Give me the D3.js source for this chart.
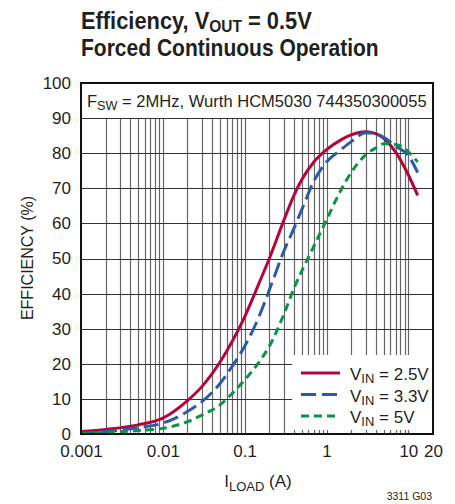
<!DOCTYPE html>
<html>
<head>
<meta charset="utf-8">
<script src="https://cdn.jsdelivr.net/npm/d3@7"></script>
<style>
  html, body { margin: 0; padding: 0; background: #fff; }
  svg { display: block; }
  text { font-family: "Liberation Sans Narrow", "Arial Narrow", "Liberation Sans", sans-serif; fill: #231f20; }
</style>
</head>
<body>
<div id="chart"></div>
<script>
// ---- data ----
const loads = [0.001, 0.002, 0.005, 0.01, 0.02, 0.03, 0.05, 0.07, 0.1, 0.15, 0.2, 0.3, 0.4, 0.5, 0.7, 1, 1.5, 2, 3, 4, 5, 7, 10, 13];
const effVin25 = [0.7, 1.3, 2.6, 4.5, 9.5, 13.5, 20.5, 26.3, 33.4, 43, 50, 60.8, 68, 72.5, 77.5, 81, 83.8, 85.2, 86.1, 85.6, 84.2, 80.3, 73.8, 68];
const effVin33 = [0.3, 0.7, 1.8, 3.1, 6.4, 9.2, 14.4, 19.2, 25, 33.5, 41, 52, 58.6, 64, 72, 77.5, 81, 83.3, 85.8, 85.5, 84.5, 82, 79.3, 74.5];
const effVin5 = [0.1, 0.4, 1.0, 1.6, 3.5, 5.4, 8.3, 11.5, 15.4, 20.5, 25, 34, 41.5, 46.5, 53.5, 61, 69.5, 74.5, 79.5, 81.5, 82.7, 82.5, 80.4, 77.5];
const seriesLabels = ["2.5V", "3.3V", "5V"];
const yTicks = [0, 10, 20, 30, 40, 50, 60, 70, 80, 90, 100];
const xTicks = [0.001, 0.01, 0.1, 1, 10, 20];
const xTickLabels = ["0.001", "0.01", "0.1", "1", "10", "20"];

const W = 455, H = 504;
const L = 81, R = 433, T = 83, B = 434;

const svg = d3.select("#chart").append("svg").attr("width", W).attr("height", H);

const x = d3.scaleLog().domain([0.001, 20]).range([L, R]);
const y = d3.scaleLinear().domain([0, 100]).range([B, T]);

// squeeze a text horizontally to a target width (anchored at its left edge)
function fitWidth(sel, x0, y0, target) {
  const w = sel.node().getBBox().width;
  const s = w > 0 ? target / w : 1;
  sel.attr("x", 0).attr("y", 0).attr("transform", `translate(${x0},${y0}) scale(${s},1)`);
}

// grid lines
const vGrid = [];
for (let e = -3; e <= 1; e++) for (let k = 1; k <= 9; k++) {
  const v = k * Math.pow(10, e);
  if (v > 0.001 && v < 20) vGrid.push(v);
}
svg.append("g").selectAll("line").data(vGrid).join("line")
  .attr("x1", d => Math.round(x(d)) + 0.5).attr("x2", d => Math.round(x(d)) + 0.5)
  .attr("y1", T).attr("y2", B)
  .attr("stroke", "#666").attr("stroke-width", 1.2);
svg.append("g").selectAll("line").data(yTicks.filter(d => d > 0 && d < 100)).join("line")
  .attr("x1", L).attr("x2", R)
  .attr("y1", d => Math.round(y(d)) + 0.5).attr("y2", d => Math.round(y(d)) + 0.5)
  .attr("stroke", "#333").attr("stroke-width", 1.2);

// white masks: annotation band and legend box
svg.append("rect").attr("x", L).attr("y", T).attr("width", R - L).attr("height", Math.round(y(90)) - T)
  .attr("fill", "#fff");
svg.append("rect").attr("x", 292).attr("y", 355).attr("width", R - 292).attr("height", 75)
  .attr("fill", "#fff");

// curves
const colors = ["#b3053c", "#2c5aab", "#0b9347"];
const dashes = [null, "15,6", "8,5"];
const allSeries = [effVin25, effVin33, effVin5];
const line = d3.line().x(d => x(d[0])).y(d => y(d[1])).curve(d3.curveMonotoneX);
allSeries.forEach((s, i) => {
  svg.append("path")
    .datum(loads.map((l, j) => [l, s[j]]))
    .attr("d", line)
    .attr("fill", "none")
    .attr("stroke", colors[i])
    .attr("stroke-width", 3)
    .attr("stroke-dasharray", dashes[i]);
});

// frame
svg.append("rect").attr("x", L).attr("y", T).attr("width", R - L).attr("height", B - T)
  .attr("fill", "none").attr("stroke", "#111").attr("stroke-width", 2);

// axes
const yAxis = svg.append("g").attr("transform", `translate(${L},0)`)
  .call(d3.axisLeft(y).tickValues(yTicks).tickSize(0).tickPadding(10));
yAxis.select(".domain").remove();
yAxis.selectAll("text").attr("font-size", 17).attr("font-family", null).style("fill", "#231f20");

const xAxis = svg.append("g").attr("transform", `translate(0,${B})`)
  .call(d3.axisBottom(x).tickValues(xTicks).tickSize(0).tickPadding(11)
    .tickFormat((d, i) => xTickLabels[i]));
xAxis.select(".domain").remove();
xAxis.selectAll("text").attr("font-size", 17).attr("font-family", null).style("fill", "#231f20");

// title
const t1 = svg.append("text").attr("font-size", 24).attr("font-weight", "bold");
t1.append("tspan").text("Efficiency, V");
t1.append("tspan").attr("dy", 3).attr("font-size", 17).text("OUT");
t1.append("tspan").attr("dy", -3).text(" = 0.5V");
fitWidth(t1, L, 29, 231);
const t2 = svg.append("text").attr("font-size", 23).attr("font-weight", "bold")
  .text("Forced Continuous Operation");
fitWidth(t2, L, 56, 298);

// annotation
const ann = svg.append("text").attr("font-size", 17);
ann.append("tspan").text("F");
ann.append("tspan").attr("dy", 3).attr("font-size", 13).text("SW");
ann.append("tspan").attr("dy", -3).text(" = 2MHz, Wurth HCM5030 744350300055");
fitWidth(ann, 87, 107, 340);

// axis titles
const xt = svg.append("text").attr("x", 258).attr("y", 487).attr("text-anchor", "middle").attr("font-size", 17);
xt.append("tspan").text("I");
xt.append("tspan").attr("dy", 4).attr("font-size", 13).text("LOAD");
xt.append("tspan").attr("dy", -4).text(" (A)");

svg.append("text").attr("transform", "translate(33,258) rotate(-90)")
  .attr("text-anchor", "middle").attr("font-size", 16).text("EFFICIENCY (%)");

// legend
seriesLabels.forEach((lab, i) => {
  const ly = 373 + i * 21.5;
  svg.append("line").attr("x1", 301).attr("x2", 340).attr("y1", ly).attr("y2", ly)
    .attr("stroke", colors[i]).attr("stroke-width", 3).attr("stroke-dasharray", dashes[i]);
  const tx = svg.append("text").attr("x", 350).attr("y", ly + 7).attr("font-size", 17);
  tx.append("tspan").text("V");
  tx.append("tspan").attr("dy", 3).attr("font-size", 13).text("IN");
  tx.append("tspan").attr("dy", -3).text(" = " + lab);
});

// figure code
svg.append("text").attr("x", 432).attr("y", 500).attr("text-anchor", "end").attr("font-size", 10.5)
  .text("3311 G03");
</script>
</body>
</html>
